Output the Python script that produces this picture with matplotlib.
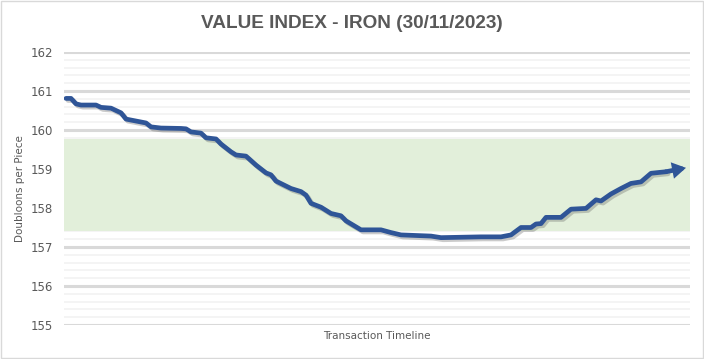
import matplotlib.pyplot as plt
import matplotlib.patheffects as pe
from matplotlib.ticker import MultipleLocator

# timeline step and value
steps = [0, 1, 2, 3, 6, 7, 9, 10, 11, 12, 14, 16, 17, 19, 23, 24, 25, 27, 28,
         30, 31, 33, 34, 36, 38, 40, 41, 42, 45, 47, 48, 49, 51, 53, 55, 56,
         59, 63, 65, 67, 73, 75, 79, 83, 87, 89, 91, 93, 94, 95, 96, 99, 101,
         104, 106, 107, 109, 111, 113, 115, 117, 120, 124]
values = [160.81, 160.81, 160.67, 160.64, 160.64, 160.58, 160.56, 160.50,
          160.44, 160.28, 160.23, 160.18, 160.08, 160.05, 160.04, 160.03,
          159.95, 159.92, 159.80, 159.77, 159.64, 159.44, 159.36, 159.33,
          159.10, 158.90, 158.85, 158.69, 158.50, 158.42, 158.33, 158.12,
          158.02, 157.86, 157.80, 157.67, 157.44, 157.44, 157.37, 157.31,
          157.28, 157.24, 157.25, 157.26, 157.26, 157.31, 157.50, 157.50,
          157.59, 157.60, 157.76, 157.76, 157.97, 157.99, 158.21, 158.18,
          158.36, 158.50, 158.63, 158.67, 158.89, 158.93, 159.03]

band_low = 157.42
band_high = 159.76
y_min, y_max = 155, 162

title = "VALUE INDEX - IRON (30/11/2023)"
y_label = "Doubloons per Piece"
x_label = "Transaction Timeline"

text_color = "#595959"
line_color = "#2F5597"

fig = plt.figure(figsize=(7.04, 3.59), dpi=100)
ax = fig.add_axes([64 / 704, 1 - 325 / 359, (690 - 64) / 704, (325 - 52) / 359])

ax.axhspan(band_low, band_high, color="#E2EFDA", zorder=1, lw=0)

ax.set_ylim(y_min, y_max)
ax.set_xlim(-0.4, 124.8)
ax.yaxis.set_major_locator(MultipleLocator(1))
ax.yaxis.set_minor_locator(MultipleLocator(0.2))
ax.grid(which="major", axis="y", color="#D9D9D9", linewidth=2.2, zorder=0)
ax.grid(which="minor", axis="y", color="#F2F2F2", linewidth=1.2, zorder=0)
ax.set_axisbelow(True)

shadow = [pe.SimpleLineShadow(offset=(1.5, -1.5), shadow_color="#555555", alpha=0.3),
          pe.Normal()]
ax.plot(steps[:-1], values[:-1], color=line_color, linewidth=3.4,
        solid_joinstyle="round", solid_capstyle="round", zorder=3,
        path_effects=shadow)
# last segment ends in an arrow head
ax.annotate("", xy=(steps[-1], values[-1]), xytext=(steps[-2], values[-2]),
            arrowprops=dict(arrowstyle="-|>,head_length=0.5,head_width=0.3",
                            color=line_color, lw=3.4, mutation_scale=10,
                            shrinkA=0, shrinkB=0, joinstyle="miter",
                            capstyle="round"),
            zorder=4)

for side in ["top", "right", "left", "bottom"]:
    ax.spines[side].set_visible(False)
ax.tick_params(axis="y", which="both", length=0, pad=8, labelsize=8.5,
               labelcolor=text_color)
ax.tick_params(axis="x", which="both", length=0, labelbottom=False)

ax.set_ylabel(y_label, fontsize=7.5, color=text_color, labelpad=4)
ax.set_xlabel(x_label, fontsize=7.5, color=text_color, labelpad=4)

fig.text(0.5, 1 - 23 / 359, title, ha="center", va="center", fontsize=13.7,
         fontweight="bold", color=text_color, family="Liberation Sans")

border = plt.Rectangle((0.001, 0.002), 0.997, 0.995, transform=fig.transFigure,
                       fill=False, edgecolor="#D9D9D9", linewidth=1)
fig.patches.append(border)

fig.savefig("out.png", dpi=100)
plt.close(fig)
